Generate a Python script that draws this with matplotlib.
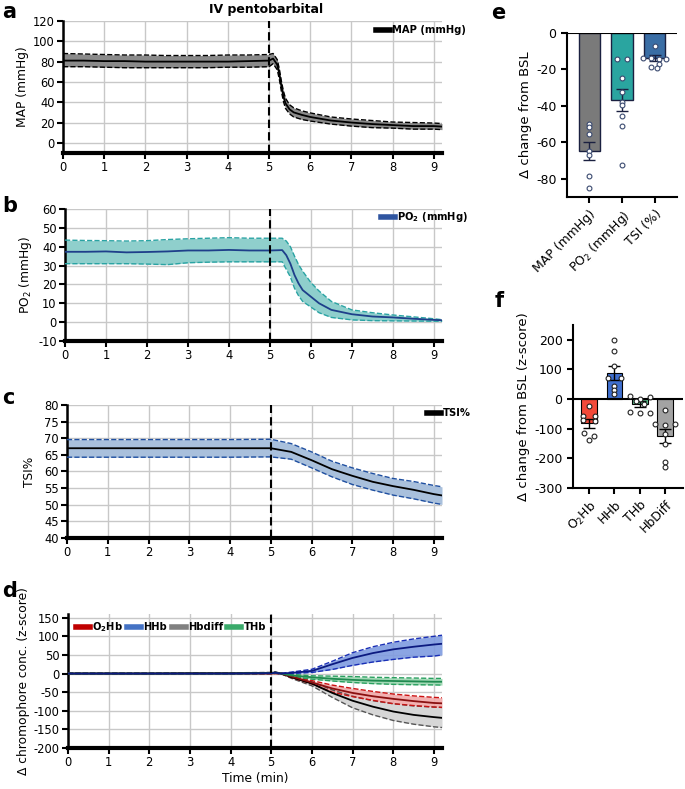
import numpy as np
import matplotlib.pyplot as plt
from matplotlib.lines import Line2D

plt.rcParams['font.family'] = ['DejaVu Sans']
plt.rcParams['mathtext.fontset'] = 'dejavusans'
plt.rcParams['axes.unicode_minus'] = False

# ---- panel a: MAP ----
t_map = [0, 0.5, 1, 1.5, 2, 2.5, 3, 3.5, 4, 4.5, 5.0, 5.1, 5.2, 5.25, 5.3, 5.35, 5.4,
         5.5, 5.6, 5.8, 6.0, 6.5, 7.0, 7.5, 8.0, 8.5, 9.0, 9.2]
map_mean = [81, 81, 80.5, 80.5, 80, 80, 80, 80, 80, 80.5, 81, 83, 77, 68, 56, 46, 39,
            33, 30, 27.5, 25.5, 22, 20, 18.5, 17.5, 16.5, 16.5, 16]
map_hi = [88, 87.5, 87, 86.5, 86.5, 86, 86, 86, 86.5, 86.5, 87, 88, 82, 73, 61, 51, 44,
          37.5, 34.5, 31.5, 29.5, 25.5, 23.5, 22, 20.5, 20, 19.5, 19]
map_lo = [75, 75, 74.5, 74, 74, 74, 74, 74, 74.5, 74.5, 75, 78, 72, 63, 51, 41, 34,
          28.5, 25.5, 23, 21.5, 18.5, 16.5, 15, 14.5, 13.5, 13.5, 13]

# ---- panel b: PO2 ----
t_po2 = [0, 0.5, 1, 1.5, 2, 2.5, 3, 3.5, 4, 4.5, 5.0, 5.3, 5.4, 5.5, 5.6, 5.7, 5.8,
         6.0, 6.2, 6.5, 7.0, 7.5, 8.0, 8.5, 9.0, 9.2]
po2_mean = [37.3, 37.3, 37.5, 37.0, 37.2, 37.5, 38.0, 38.0, 38.3, 38.0, 38.0, 38.2, 35.5,
            31, 25, 20.5, 17, 13.5, 10, 6.5, 4.2, 3.0, 2.5, 1.8, 1.2, 1.0]
po2_hi = [43.5, 43.3, 43.2, 43.0, 43.2, 43.8, 44.2, 44.5, 44.8, 44.5, 44.5, 44.5, 43,
          40, 35, 30.5, 27, 21, 16.5, 11, 6.5, 5, 3.8, 2.8, 1.8, 1.3]
po2_lo = [31, 31, 31, 31, 30.8, 30.5, 31.5, 31.8, 32, 32, 32, 32, 28,
          24, 18, 14, 11, 8, 5, 2.5, 1.2, 0.8, 0.7, 0.6, 0.5, 0.5]

# ---- panel c: TSI ----
t_tsi = [0, 1, 2, 3, 4, 5, 5.5, 6, 6.5, 7, 7.5, 8, 8.5, 9, 9.2]
tsi_mean = [67, 67, 67, 67, 67, 67, 65.9, 63.4, 60.7, 58.7, 56.9, 55.6, 54.5, 53.2, 52.8]
tsi_hi = [69.6, 69.6, 69.6, 69.6, 69.6, 69.7, 68.4, 65.9, 63.1, 61.1, 59.4, 57.9, 57, 55.8, 55.4]
tsi_lo = [64.3, 64.3, 64.3, 64.3, 64.3, 64.4, 63.7, 61.1, 58.4, 56.1, 54.4, 52.9, 51.8, 50.5, 50.1]

# ---- panel d: chromophores ----
t_nirs = [0, 1, 2, 3, 4, 5, 5.1, 5.25, 5.5, 6, 6.5, 7, 7.5, 8, 8.5, 9, 9.2]
hhb_mean = [0, 0, 0, 0, 0, 1, 2, 0, 2, 7, 25, 42, 55, 65, 72, 78, 80]
hhb_hi = [1, 1, 1, 1, 1, 2, 3, 1, 4, 11.5, 33, 56, 72, 84, 93, 100, 103]
hhb_lo = [-1, -1, -1, -1, -1, 0, 1, -1, 0, 3, 11, 22, 31, 38, 44, 47, 50]
thb_mean = [0, 0, 0, 0, 0, 1, 2, 0, -5, -10, -14, -17, -19, -20, -21, -22, -22]
thb_hi = [1, 1, 1, 1, 1, 2, 3, 0, -2, -6, -7, -8, -10, -11, -12, -13, -13]
thb_lo = [-1, -1, -1, -1, -1, 0, 1, -1, -8, -15, -20, -24, -27, -29, -30, -30.5, -31]
o2hb_mean = [0, 0, 0, 0, 0, 0, 1, 0, -8, -24, -40, -52, -61, -68, -74, -79, -80]
o2hb_hi = [1, 1, 1, 1, 1, 1, 2, 1, -5, -19, -31, -40, -48, -55, -60, -64, -65]
o2hb_lo = [-1, -1, -1, -1, -1, -1, 0, -1, -11, -28, -50, -62, -72, -81, -86, -90, -91]
hbd_mean = [0, 0, 0, 1, 1, 2, 3, 0, -10, -27, -52, -73, -89, -102, -111, -117, -119]
hbd_hi = [1, 1, 1, 2, 2, 3, 4, 1, -7, -22, -44, -61, -73, -81, -87, -90, -91]
hbd_lo = [-1, -1, -1, 0, 0, 1, 2, -1, -13, -33, -64, -92, -111, -126, -136, -143, -145]

# ---- panel e ----
e_labels = ['MAP (mmHg)', 'PO$_2$ (mmHg)', 'TSI (%)']
e_means = [-64.7, -36.8, -13.9]
e_sem = [5.0, 6.1, 1.6]
e_points = [[-50.0, -51.8, -55.7, -64.8, -66.7, -78.4, -85.0],
            [-14.5, -14.5, -24.7, -32.2, -37.7, -39.6, -45.6, -51.1, -72.7],
            [-7.3, -13.5, -13.7, -14.0, -14.3, -17.2, -18.5, -19.4]]
e_jitter = [[0, 0, 0, 0, 0, 0, 0],
            [-0.15, 0.15, 0, 0, 0, 0, 0, 0, 0],
            [0, -0.35, -0.12, 0.12, 0.35, 0.12, -0.12, 0.05]]

# ---- panel f ----
f_labels = ['O$_2$Hb', 'HHb', 'THb', 'HbDiff']
f_means = [-82, 88, -15, -125]
f_sem = [14, 23, 10, 24]
f_points = [[-24, -57, -58, -72, -74, -115, -125, -137],
            [201, 162, 111, 71, 71, 44, 30, 16.5],
            [10, 8, -1, -7, -15, -45, -47, -48],
            [-37, -83, -85, -88, -118, -151, -213, -230]]
f_jitter = [[0, -0.25, 0.25, -0.25, 0.25, -0.2, 0.2, 0],
            [0, 0, 0, -0.25, 0.25, 0, 0, 0],
            [-0.4, 0.4, 0, -0.15, 0.15, -0.4, 0, 0.4],
            [0, -0.4, 0.4, 0, 0, 0, 0, 0]]

W, H = 685, 789
fig = plt.figure(figsize=(W / 100, H / 100), dpi=100)


def px_axes(left, top, right, bottom):
    return fig.add_axes([left / W, 1 - bottom / H, (right - left) / W, (bottom - top) / H])


def style_time_axis(ax, ylim, yticks):
    ax.set_xlim(0, 9.2)
    ax.set_ylim(*ylim)
    ax.set_xticks(range(10))
    ax.set_yticks(yticks)
    ax.grid(True, color='#c8c8c8', lw=1)
    ax.set_axisbelow(True)
    for s in ['top', 'right']:
        ax.spines[s].set_visible(False)
    ax.spines['bottom'].set_linewidth(3)
    ax.spines['left'].set_linewidth(1.8)
    ax.tick_params(axis='both', labelsize=8.3, width=1.5, length=4, pad=2)
    ax.axvline(5, color='black', ls=(0, (4, 2)), lw=1.5, zorder=5)


def band(ax, t, mean, hi, lo, fill, edge, line, alpha=1.0):
    ax.fill_between(t, lo, hi, color=fill, alpha=alpha, lw=0, zorder=2)
    ax.plot(t, hi, color=edge, ls='--', lw=1.0, zorder=3)
    ax.plot(t, lo, color=edge, ls='--', lw=1.0, zorder=3)
    ax.plot(t, mean, color=line, lw=1.3, zorder=4)


def px_legend(ax, handles, labels, x, y, **kw):
    # legend anchored by its left edge at a figure pixel position
    ax.legend(handles, labels, loc='center left', bbox_to_anchor=(x / W, 1 - y / H),
              bbox_transform=fig.transFigure, frameon=False,
              prop={'weight': 'bold', 'size': 7.2}, handlelength=1.4,
              handletextpad=0.2, borderaxespad=0, borderpad=0, **kw)


# a
ax_a = px_axes(63, 21, 442, 153)
style_time_axis(ax_a, (-10, 120), range(0, 121, 20))
band(ax_a, t_map, map_mean, map_hi, map_lo, '#8a8a8a', 'black', 'black')
ax_a.set_ylabel('MAP (mmHg)', fontsize=8.8, labelpad=3)
fig.text(266 / W, 1 - 10 / H, 'IV pentobarbital', fontsize=9, fontweight='bold',
         ha='center', va='center')
px_legend(ax_a, [Line2D([], [], color='black', lw=4)], ['MAP (mmHg)'], 376, 30)

# b
ax_b = px_axes(65, 209, 442, 341)
style_time_axis(ax_b, (-10, 60), range(-10, 61, 10))
band(ax_b, t_po2, po2_mean, po2_hi, po2_lo, '#8fcfcc', '#2aa3a3', '#1e3f8a')
ax_b.set_ylabel('PO$_2$ (mmHg)', fontsize=8.8, labelpad=3)
px_legend(ax_b, [Line2D([], [], color='#2f55a0', lw=4)], [r'$\mathbf{PO_2}$ (mmHg)'], 381, 217)

# c
ax_c = px_axes(67, 405, 442, 538)
style_time_axis(ax_c, (40, 80), range(40, 81, 5))
band(ax_c, t_tsi, tsi_mean, tsi_hi, tsi_lo, '#a9c0dc', '#1f4fa0', 'black')
ax_c.set_ylabel('TSI%', fontsize=8.8, labelpad=6)
px_legend(ax_c, [Line2D([], [], color='black', lw=4)], ['TSI%'], 427, 413)

# d
ax_d = px_axes(68, 614, 442, 748)
style_time_axis(ax_d, (-200, 160), range(-200, 151, 50))
band(ax_d, t_nirs, hbd_mean, hbd_hi, hbd_lo, '#d6d6d6', '#555555', 'black')
band(ax_d, t_nirs, o2hb_mean, o2hb_hi, o2hb_lo, '#f0a4a4', '#cc1111', '#8a1010', alpha=0.85)
band(ax_d, t_nirs, thb_mean, thb_hi, thb_lo, '#9ad6b0', '#2aa060', '#1f8a50', alpha=0.9)
band(ax_d, t_nirs, hhb_mean, hhb_hi, hhb_lo, '#7f9be0', '#1a2fb5', '#0c1a80', alpha=0.9)
ax_d.set_ylabel('Δ chromophore conc. (z-score)', fontsize=8.8, labelpad=3)
ax_d.set_xlabel('Time (min)', fontsize=8.8, labelpad=2)
d_handles = [Line2D([], [], color=c, lw=4) for c in ['#c00000', '#4472c4', '#808080', '#3aaa6a']]
px_legend(ax_d, d_handles, [r'$\mathbf{O_2}$Hb', 'HHb', 'Hbdiff', 'THb'], 76, 627,
          ncol=4, columnspacing=0.45)

# panel letters
for lab, y in zip('abcd', [2, 196, 388, 581]):
    fig.text(2 / W, 1 - y / H, lab, fontsize=15, fontweight='bold', va='top')
fig.text(491 / W, 1 - 3 / H, 'e', fontsize=15, fontweight='bold', va='top')
fig.text(495 / W, 1 - 291 / H, 'f', fontsize=15, fontweight='bold', va='top')

# e
ax_e = px_axes(567, 33, 677, 197)
e_colors = ['#7a7a7a', '#2aa5a0', '#3a6ea5']
xe = np.arange(len(e_means))
ax_e.bar(xe, e_means, width=0.64, color=e_colors, edgecolor='#1a2040', lw=1.0, zorder=2)
ax_e.errorbar(xe, e_means, yerr=e_sem, fmt='none', ecolor='#1a2040', elinewidth=1.0,
              capsize=4, capthick=1.0, zorder=4)
for i, pts in enumerate(e_points):
    ax_e.scatter(np.array(e_jitter[i]) + i, pts, s=12, facecolor='white',
                 edgecolor='#3a4a70', lw=0.8, zorder=5)
ax_e.axhline(0, color='black', lw=1.5, zorder=3)
ax_e.set_xlim(-0.67, 2.67)
ax_e.set_ylim(-90, 0)
ax_e.set_yticks([0, -20, -40, -60, -80])
ax_e.set_xticks(xe)
ax_e.set_xticklabels(e_labels, rotation=45, ha='right', rotation_mode='anchor', fontsize=8.8)
for s in ['top', 'right']:
    ax_e.spines[s].set_visible(False)
ax_e.spines['left'].set_linewidth(1.5)
ax_e.spines['bottom'].set_linewidth(1.5)
ax_e.tick_params(axis='both', labelsize=9, width=1.5, length=4)
ax_e.set_ylabel('Δ change from BSL', fontsize=9.5, labelpad=3)

# f
ax_f = px_axes(573, 325, 683, 488)
f_colors = ['#f24a3a', '#3f6fcf', '#5cc08c', '#a3a3a3']
xf = np.arange(len(f_means))
ax_f.bar(xf, f_means, width=0.62, color=f_colors, edgecolor='black', lw=0.8, zorder=2)
ax_f.errorbar(xf, f_means, yerr=f_sem, fmt='none', ecolor='black', elinewidth=1.0,
              capsize=4, capthick=1.0, zorder=4)
for i, pts in enumerate(f_points):
    ax_f.scatter(np.array(f_jitter[i]) + i, pts, s=12, facecolor='white',
                 edgecolor='#222222', lw=0.8, zorder=5)
ax_f.axhline(0, color='black', lw=1.5, zorder=3)
ax_f.set_xlim(-0.63, 3.7)
ax_f.set_ylim(-300, 250)
ax_f.set_yticks([200, 100, 0, -100, -200, -300])
ax_f.set_xticks(xf)
ax_f.set_xticklabels(f_labels, rotation=45, ha='right', rotation_mode='anchor', fontsize=8.8)
for s in ['top', 'right']:
    ax_f.spines[s].set_visible(False)
ax_f.spines['left'].set_linewidth(1.5)
ax_f.spines['bottom'].set_linewidth(1.5)
ax_f.tick_params(axis='both', labelsize=9, width=1.5, length=4)
ax_f.set_ylabel('Δ change from BSL (z-score)', fontsize=9.5, labelpad=3)

fig.savefig('out.png', dpi=100)
